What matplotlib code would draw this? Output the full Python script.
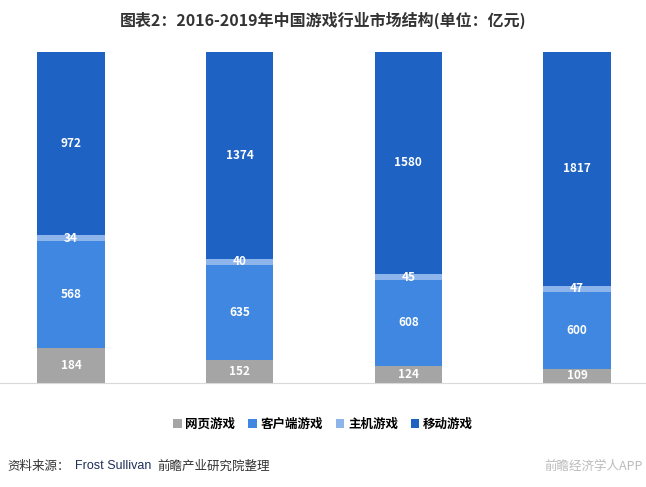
import numpy as np
import matplotlib.pyplot as plt

plt.rcParams['font.family'] = ['Noto Sans CJK SC', 'DejaVu Sans']

years = ['2016', '2017', '2018', '2019']
web = [184, 152, 124, 109]
client = [568, 635, 608, 600]
console = [34, 40, 45, 47]
mobile = [972, 1374, 1580, 1817]

names = ['网页游戏', '客户端游戏', '主机游戏', '移动游戏']
colors = ['#A5A5A5', '#3F87E0', '#8DB5EC', '#1E62C4']

series = np.array([web, client, console, mobile], dtype=float)
share = series / series.sum(axis=0)

fig = plt.figure(figsize=(6.46, 4.87), dpi=100)
ax = fig.add_axes([0, 0.2136, 1, 0.6797])

x = np.arange(len(years))
bottom = np.zeros(len(years))
for vals, sh, name, c in zip(series, share, names, colors):
    ax.bar(x, sh, 0.4, bottom=bottom, color=c, label=name)
    for xi, b, s, v in zip(x, bottom, sh, vals):
        ax.text(xi, b + s / 2, '%d' % v, ha='center', va='center',
                color='white', fontsize=8.5, fontweight='bold')
    bottom += sh

ax.set_xlim(-0.421, 3.409)
ax.set_ylim(0, 1)
ax.set_xticks([])
ax.set_yticks([])
for s in ['top', 'left', 'right']:
    ax.spines[s].set_visible(False)
ax.spines['bottom'].set_color('#D9D9D9')

fig.text(0.5, 0.958, '图表2：2016-2019年中国游戏行业市场结构(单位：亿元)',
         ha='center', va='center', fontsize=11.5, fontweight='bold', color='#333333')

fig.legend(loc='center', bbox_to_anchor=(0.5, 0.129), ncol=4, frameon=False,
           handlelength=0.7, handleheight=0.7, handletextpad=0.3,
           columnspacing=1.0, prop={'weight': 'bold', 'size': 9})

fig.text(0.012, 0.043, '资料来源：', ha='left', va='center', fontsize=9, color='#333333')
fig.text(0.116, 0.043, 'Frost Sullivan', ha='left', va='center', fontsize=9,
         color='#1F2E5A', family='Liberation Sans')
fig.text(0.243, 0.043, '前瞻产业研究院整理', ha='left', va='center', fontsize=9, color='#333333')
fig.text(0.995, 0.043, '前瞻经济学人APP', ha='right', va='center', fontsize=9, color='#BBBBBB')

fig.savefig('out.png', dpi=100)
